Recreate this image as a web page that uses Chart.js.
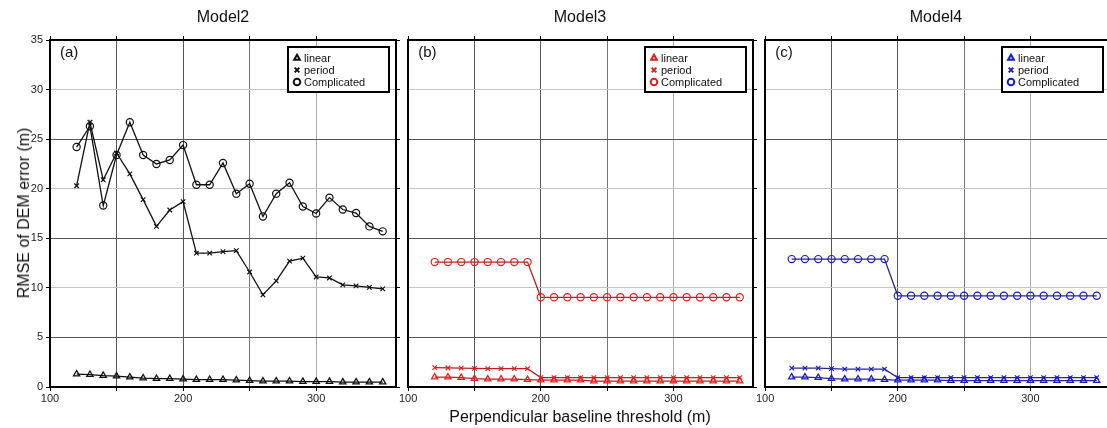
<!DOCTYPE html>
<html><head><meta charset="utf-8">
<script src="https://cdn.jsdelivr.net/npm/chart.js@4.4.0/dist/chart.umd.min.js"></script>
<style>
html,body{margin:0;padding:0;width:1107px;height:428px;overflow:hidden;background:#fff;font-family:'Liberation Sans',Arial,sans-serif;}
canvas{position:absolute;top:0;}
.t{position:absolute;font-size:16px;color:#111;white-space:nowrap;line-height:18px;}
</style></head><body>
<canvas id="ca" width="402" height="428" style="left:0px"></canvas>
<canvas id="cb" width="362" height="428" style="left:398px"></canvas>
<canvas id="cc" width="362" height="428" style="left:755px"></canvas>
<div class="t" style="left:223px;top:8px;transform:translateX(-50%)">Model2</div>
<div class="t" style="left:580px;top:8px;transform:translateX(-50%)">Model3</div>
<div class="t" style="left:936px;top:8px;transform:translateX(-50%)">Model4</div>
<div class="t" style="left:24px;top:213px;transform:translate(-50%,-50%) rotate(-90deg)">RMSE of DEM error (m)</div>
<div class="t" style="left:580px;top:408px;transform:translateX(-50%)">Perpendicular baseline threshold (m)</div>
<script>
const baselines = [120,130,140,150,160,170,180,190,200,210,220,230,240,250,260,270,280,290,300,310,320,330,340,350];
const seriesNames = ['linear','period','Complicated'];
const xTickLabels = [100,200,300];
const yTickLabels = [0,5,10,15,20,25,30,35];

const model2Linear = [1.3,1.25,1.15,1.1,1.0,0.9,0.85,0.85,0.8,0.75,0.75,0.75,0.7,0.65,0.6,0.6,0.6,0.55,0.55,0.55,0.5,0.5,0.5,0.5];
const model2Period = [20.3,26.7,20.9,23.6,21.5,18.9,16.2,17.85,18.7,13.5,13.5,13.65,13.75,11.6,9.3,10.7,12.7,13.0,11.1,11.0,10.3,10.2,10.05,9.9];
const model2Complicated = [24.2,26.3,18.3,23.4,26.7,23.4,22.5,22.9,24.4,20.4,20.4,22.6,19.5,20.5,17.2,19.5,20.6,18.2,17.5,19.1,17.9,17.55,16.2,15.7];

const model3Linear = [1.0,1.0,0.95,0.85,0.8,0.8,0.8,0.75,0.7,0.7,0.7,0.7,0.6,0.6,0.6,0.6,0.6,0.6,0.6,0.6,0.6,0.6,0.6,0.6];
const model3Period = [1.95,1.92,1.9,1.88,1.85,1.85,1.85,1.85,0.95,0.95,0.95,0.95,0.95,0.95,0.95,0.95,0.95,0.95,0.95,0.95,0.95,0.95,0.95,0.95];
const model3Complicated = [12.6,12.6,12.6,12.6,12.6,12.6,12.6,12.6,9.05,9.05,9.05,9.05,9.05,9.05,9.05,9.05,9.05,9.05,9.05,9.05,9.05,9.05,9.05,9.05];

const model4Linear = [1.0,1.0,0.95,0.85,0.8,0.8,0.8,0.75,0.7,0.7,0.7,0.7,0.65,0.65,0.65,0.65,0.65,0.65,0.65,0.65,0.65,0.65,0.65,0.65];
const model4Period = [1.9,1.9,1.9,1.85,1.8,1.8,1.8,1.8,0.95,0.95,0.95,0.95,0.95,0.95,0.95,0.95,0.95,0.95,0.95,0.95,0.95,0.95,0.95,0.95];
const model4Complicated = [12.9,12.9,12.9,12.9,12.9,12.9,12.9,12.9,9.2,9.2,9.2,9.2,9.2,9.2,9.2,9.2,9.2,9.2,9.2,9.2,9.2,9.2,9.2,9.2];

Chart.defaults.font.family = "'Liberation Sans', Arial, sans-serif";
Chart.defaults.color = '#222';

const styles = [
  {pointStyle:'triangle', pointRadius:3.6, pointBorderWidth:1.3},
  {pointStyle:'crossRot', pointRadius:3.2, pointBorderWidth:1.2},
  {pointStyle:'circle', pointRadius:3.6, pointBorderWidth:1.2}
];

const legendPlugin = {
  id:'boxLegend',
  afterDraw(chart, args, o){
    const ctx = chart.ctx, ca = chart.chartArea;
    const w = 101, h = 45;
    const x0 = ca.right - 7 - w, y0 = ca.top + 7;
    ctx.save();
    ctx.fillStyle = '#fff';
    ctx.fillRect(x0, y0, w, h);
    ctx.strokeStyle = '#000'; ctx.lineWidth = 2;
    ctx.strokeRect(x0, y0, w, h);
    ctx.font = "11px 'Liberation Sans', Arial, sans-serif";
    ctx.textBaseline = 'middle';
    chart.data.datasets.forEach((ds, i) => {
      const yy = y0 + 11 + i*12;
      ctx.strokeStyle = ds.pointBorderColor; ctx.fillStyle = 'rgba(0,0,0,0)';
      Chart.helpers.drawPoint(ctx, {pointStyle: ds.pointStyle, radius: 3.3, rotation:0, borderWidth:2}, x0 + 9, yy);
      ctx.fillStyle = '#111';
      ctx.fillText(ds.label, x0 + 16, yy + 0.5);
    });
    ctx.font = "15px 'Liberation Sans', Arial, sans-serif";
    ctx.fillStyle = '#111';
    ctx.textBaseline = 'top';
    ctx.fillText(o.panel, ca.left + 10, ca.top + 5);
    ctx.restore();
  }
};

function xGrid(v){
  if (v===150 || v===200) return '#555';
  if (v===250) return '#777';
  return '#aaa';
}
function yGrid(v){ return (v % 10 === 5) ? '#555' : '#c4c4c4'; }
const fit = (prop, val) => (s) => { s[prop] = val; };
const keep50 = (s) => { s.ticks = s.ticks.filter(t => t.value % 50 === 0); };

function makeChart(id, series, lineColor, markerColor, panel, showY, padLeft, padRight){
  const datasets = series.map((vals, i) => Object.assign({
    label: seriesNames[i],
    data: baselines.map((b, k) => ({x:b, y:vals[k]})),
    borderColor: lineColor,
    borderWidth: 1.3,
    pointBorderColor: markerColor,
    pointBackgroundColor: 'rgba(0,0,0,0)',
    pointHoverRadius: 3.6,
    fill:false, tension:0
  }, styles[i]));
  return new Chart(document.getElementById(id), {
    type:'line',
    data:{datasets},
    plugins:[legendPlugin],
    options:{
      responsive:false, animation:false, devicePixelRatio:1,
      layout:{padding:{left:padLeft, right:padRight, top:36, bottom:21}},
      plugins:{legend:{display:false}, tooltip:{enabled:false}, boxLegend:{panel}},
      scales:{
        x:{type:'linear', position:'bottom', min:100, max:360,
           afterBuildTicks: keep50, afterFit: fit('height', 20),
           ticks:{stepSize:50, padding:1, maxRotation:0, autoSkip:false, font:{size:11},
             callback:(v)=> xTickLabels.includes(v) ? String(v) : ''},
           grid:{color:(c)=>xGrid(c.tick.value), tickColor:'#000', tickLength:4, lineWidth:1},
           border:{display:true, color:'#000', width:2}},
        x2:{type:'linear', position:'top', min:100, max:360,
           afterBuildTicks: keep50, afterFit: fit('height', 4),
           ticks:{display:false, stepSize:50},
           grid:{drawOnChartArea:false, tickColor:'#000', tickLength:4},
           border:{display:true, color:'#000', width:2}},
        y:{type:'linear', position:'left', min:0, max:35,
           afterFit: fit('width', showY ? 50 : 0),
           ticks:{display:showY, stepSize:5, padding:3, font:{size:11},
             callback:(v)=> yTickLabels.includes(v) ? String(v) : ''},
           grid:{color:(c)=>yGrid(c.tick.value), tickColor:'#000', tickLength:4, drawTicks:showY, lineWidth:1},
           border:{display:true, color:'#000', width:2}},
        y2:{type:'linear', position:'right', min:0, max:35,
           afterFit: fit('width', 4),
           ticks:{display:false, stepSize:5},
           grid:{drawOnChartArea:false, tickColor:'#000', tickLength:4},
           border:{display:true, color:'#000', width:2}}
      }
    }
  });
}

makeChart('ca', [model2Linear, model2Period, model2Complicated], '#111', '#111', '(a)', true, 0, 2);
makeChart('cb', [model3Linear, model3Period, model3Complicated], '#b82025', '#e0201f', '(b)', false, 9, 3);
makeChart('cc', [model4Linear, model4Period, model4Complicated], '#26268e', '#1a1ac8', '(c)', false, 8, 3);
</script>
</body></html>
